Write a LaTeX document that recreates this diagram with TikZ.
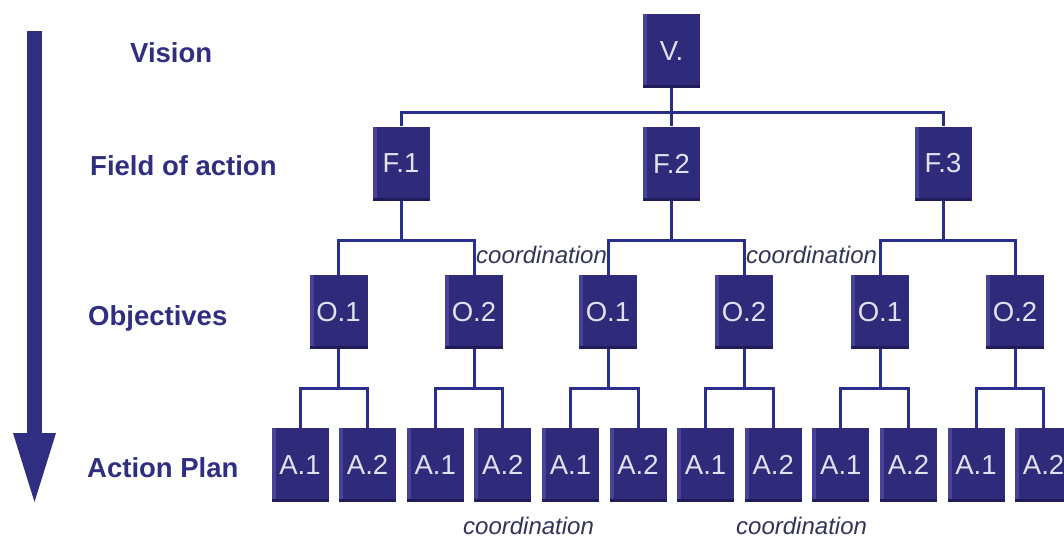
\documentclass[tikz,border=0pt]{standalone}
\usepackage{fontspec}
\setmainfont{Liberation Sans}
\usetikzlibrary{calc}
\definecolor{boxcol}{RGB}{48,42,122}
\definecolor{boxlight}{RGB}{72,66,152}
\definecolor{boxdark}{RGB}{32,28,90}
\definecolor{boxtext}{RGB}{225,225,240}
\definecolor{linecol}{RGB}{42,46,140}
\definecolor{labelcol}{RGB}{47,46,128}
\definecolor{coordcol}{RGB}{52,52,88}
\tikzset{
  box/.style={fill=boxcol, minimum width=57pt, minimum height=74pt, inner sep=0pt,
    text=boxtext, font=\fontsize{27.5}{29}\selectfont,
    path picture={
      \fill[boxlight] (path picture bounding box.south west) rectangle ([xshift=4pt]path picture bounding box.north west);
      \fill[boxdark] (path picture bounding box.south west) rectangle ([yshift=3pt]path picture bounding box.south east);
    }},
  obox/.style={box, minimum width=58pt},
  conn/.style={draw=linecol, line width=3pt},
  level/.style={anchor=base west, inner sep=0pt, text=labelcol, font=\fontsize{27.5}{30}\selectfont\bfseries},
  coordlab/.style={anchor=base west, inner sep=0pt, text=coordcol, font=\fontsize{24}{26}\selectfont\itshape}
}
\begin{document}
\begin{tikzpicture}[x=1pt,y=-1pt]
\useasboundingbox (0,0) rectangle (1064,538);
% arrow
\fill[labelcol] (27,31) rectangle (42,434);
\fill[labelcol] (13,433) -- (56,433) -- (34.5,502) -- cycle;
% level labels
\node[level] (lv) at (130,62) {Vision};
\node[level] (lf) at (90,175) {Field of action};
\node[level] (lo) at (88,325) {Objectives};
\node[level] (la) at (87,477) {Action Plan};
% boxes
\node[box] (V) at (671.5,51) {V.};
\node[box] (F1) at (401,163.5) {F.1};
\node[box] (F2) at (671.5,163.5) {F.2};
\node[box] (F3) at (943,163.5) {F.3};
\node[obox] (O11) at (338.5,312) {O.1};
\node[obox] (O12) at (474,312) {O.2};
\node[obox] (O21) at (608,312) {O.1};
\node[obox] (O22) at (744,312) {O.2};
\node[obox] (O31) at (880,312) {O.1};
\node[obox] (O32) at (1015,312) {O.2};
\foreach \i/\t in {0/A.1,1/A.2,2/A.1,3/A.2,4/A.1,5/A.2,6/A.1,7/A.2,8/A.1,9/A.2,10/A.1,11/A.2}{
  \node[box] (A\i) at ({300+67.6*\i},465) {\t};
}
% connectors V -> F
\draw[conn] (V.south) -- (F2.north);
\draw[conn] (F1.north) -- ++(0,-14) -| (F3.north);
% F -> O
\foreach \f/\a/\b in {F1/O11/O12,F2/O21/O22,F3/O31/O32}{
  \coordinate (bus\f) at ($(\a.north)+(0,-34)$);
  \draw[conn] (\a.north) -- (bus\f) -| (\b.north);
  \draw[conn] (\f.south) -- (\f.south |- bus\f);
}
% O -> A
\foreach \o/\a/\b in {O11/A0/A1,O12/A2/A3,O21/A4/A5,O22/A6/A7,O31/A8/A9,O32/A10/A11}{
  \coordinate (bus\o) at ($(\a.north)+(0,-39)$);
  \draw[conn] (\a.north) -- (bus\o) -| (\b.north);
  \draw[conn] (\o.south) -- (\o.south |- bus\o);
}
% coordination labels
\node[coordlab] (c1) at (476,263) {coordination};
\node[coordlab] (c2) at (746,263) {coordination};
\node[coordlab] (c3) at (463,534) {coordination};
\node[coordlab] (c4) at (736,534) {coordination};
\end{tikzpicture}
\end{document}
